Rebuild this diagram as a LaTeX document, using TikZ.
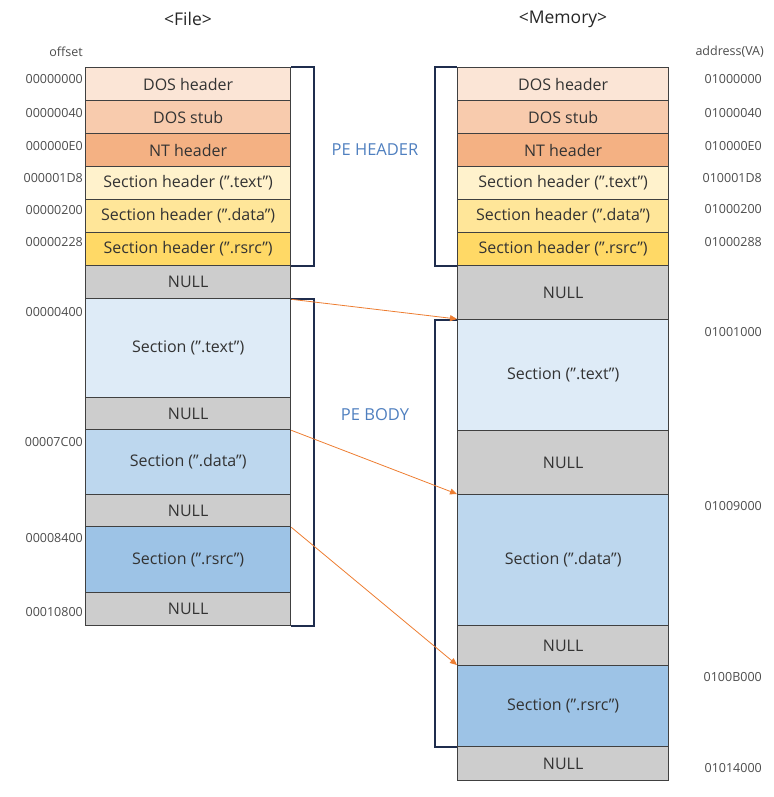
\documentclass[tikz,border=0pt]{standalone}
\usepackage{fontspec}
\setmainfont{Open Sans}
\usetikzlibrary{arrows.meta}

\definecolor{doshc}{HTML}{FBE5D6}
\definecolor{stubc}{HTML}{F8CBAD}
\definecolor{ntc}{HTML}{F4B183}
\definecolor{shtextc}{HTML}{FFF2CC}
\definecolor{shdatac}{HTML}{FFE699}
\definecolor{shrsrcc}{HTML}{FFD966}
\definecolor{nullc}{HTML}{CDCDCD}
\definecolor{sectextc}{HTML}{DEEBF7}
\definecolor{secdatac}{HTML}{BDD7EE}
\definecolor{secrsrcc}{HTML}{9DC3E6}
\definecolor{pelabc}{HTML}{4F7FBF}
\definecolor{bracketc}{HTML}{1F2D4D}
\definecolor{mapc}{HTML}{ED7D31}

\begin{document}
\begin{tikzpicture}[x=1pt, y=-1pt,
    cell/.style={rectangle, draw=black!75, line width=1.3pt, anchor=north west, minimum width=#1, inner sep=0pt, font=\fontsize{16}{18}\selectfont, text=black!80},
    cell/.default=205pt,
    offs/.style={anchor=east, font=\fontsize{12.5}{14}\selectfont, text=black!70, inner sep=0pt},
    title/.style={font=\fontsize{17.5}{20}\selectfont, text=black!85},
    pelab/.style={font=\fontsize{16.5}{18}\selectfont, text=pelabc},
    bracket/.style={draw=bracketc, line width=2pt},
    arrow/.style={-{Triangle[length=7pt,width=6pt]}, draw=mapc, line width=0.8pt}
]
    \useasboundingbox (0,0) rectangle (773,797);

    % Titles
    \node[title] (tfile) at (188,19) {<File>};
    \node[title] (tmem) at (563,19) {<Memory>};
    \node[offs] (toffs) at (83,52) {offset};
    \node[offs] (taddr) at (764,52) {address(VA)};

    % File layout
    \node[cell, fill=doshc, minimum height=33pt] (fdosh) at (85,67) {DOS header};
    \node[cell, fill=stubc, minimum height=33pt] (fstub) at (85,100) {DOS stub};
    \node[cell, fill=ntc, minimum height=33pt] (fnt) at (85,133) {NT header};
    \node[cell, fill=shtextc, minimum height=33pt] (fshtext) at (85,166) {Section header (".text")};
    \node[cell, fill=shdatac, minimum height=33pt] (fshdata) at (85,199) {Section header (".data")};
    \node[cell, fill=shrsrcc, minimum height=33pt] (fshrsrc) at (85,232) {Section header (".rsrc")};
    \node[cell, fill=nullc, minimum height=33pt] (fnull1) at (85,265) {NULL};
    \node[cell, fill=sectextc, minimum height=99pt] (ftext) at (85,298) {Section (".text")};
    \node[cell, fill=nullc, minimum height=32pt] (fnull2) at (85,397) {NULL};
    \node[cell, fill=secdatac, minimum height=65pt] (fdata) at (85,429) {Section (".data")};
    \node[cell, fill=nullc, minimum height=32pt] (fnull3) at (85,494) {NULL};
    \node[cell, fill=secrsrcc, minimum height=66pt] (frsrc) at (85,526) {Section (".rsrc")};
    \node[cell, fill=nullc, minimum height=33pt] (fnull4) at (85,592) {NULL};

    % Memory layout
    \node[cell=211pt, fill=doshc, minimum height=33pt] (mdosh) at (457,67) {DOS header};
    \node[cell=211pt, fill=stubc, minimum height=33pt] (mstub) at (457,100) {DOS stub};
    \node[cell=211pt, fill=ntc, minimum height=33pt] (mnt) at (457,133) {NT header};
    \node[cell=211pt, fill=shtextc, minimum height=33pt] (mshtext) at (457,166) {Section header (".text")};
    \node[cell=211pt, fill=shdatac, minimum height=33pt] (mshdata) at (457,199) {Section header (".data")};
    \node[cell=211pt, fill=shrsrcc, minimum height=33pt] (mshrsrc) at (457,232) {Section header (".rsrc")};
    \node[cell=211pt, fill=nullc, minimum height=54pt] (mnull1) at (457,265) {NULL};
    \node[cell=211pt, fill=sectextc, minimum height=111pt] (mtext) at (457,319) {Section (".text")};
    \node[cell=211pt, fill=nullc, minimum height=64pt] (mnull2) at (457,430) {NULL};
    \node[cell=211pt, fill=secdatac, minimum height=131pt] (mdata) at (457,494) {Section (".data")};
    \node[cell=211pt, fill=nullc, minimum height=40pt] (mnull3) at (457,625) {NULL};
    \node[cell=211pt, fill=secrsrcc, minimum height=81pt] (mrsrc) at (457,665) {Section (".rsrc")};
    \node[cell=211pt, fill=nullc, minimum height=34pt] (mnull4) at (457,746) {NULL};

    % Offsets
    \node[offs] (o0) at (83,79) {00000000};
    \node[offs] (o1) at (83,113) {00000040};
    \node[offs] (o2) at (83,146) {000000E0};
    \node[offs] (o3) at (83,178) {000001D8};
    \node[offs] (o4) at (83,210) {00000200};
    \node[offs] (o5) at (83,242) {00000228};
    \node[offs] (o6) at (83,312) {00000400};
    \node[offs] (o7) at (83,442) {00007C00};
    \node[offs] (o8) at (83,538) {00008400};
    \node[offs] (o9) at (83,612) {00010800};

    % Addresses
    \node[offs] (a0) at (762,79) {01000000};
    \node[offs] (a1) at (762,113) {01000040};
    \node[offs] (a2) at (762,146) {010000E0};
    \node[offs] (a3) at (762,178) {010001D8};
    \node[offs] (a4) at (762,209) {01000200};
    \node[offs] (a5) at (762,242) {01000288};
    \node[offs] (a6) at (762,332) {01001000};
    \node[offs] (a7) at (762,506) {01009000};
    \node[offs] (a8) at (762,677) {0100B000};
    \node[offs] (a9) at (762,768) {01014000};

    % Brackets
    \draw[bracket] (fdosh.north east) -- ++(23,0) |- (fshrsrc.south east);
    \draw[bracket] (fnull1.south east) -- ++(23,0) |- (fnull4.south east);
    \draw[bracket] (mdosh.north west) -- ++(-22,0) |- (mshrsrc.south west);
    \draw[bracket] (mnull1.south west) -- ++(-22,0) |- (mrsrc.south west);
    \node[pelab] (pehead) at (375,150) {PE HEADER};
    \node[pelab] (pebody) at (375,415) {PE BODY};

    % Mapping
    \draw[arrow] (fnull1.south east) -- (mtext.north west);
    \draw[arrow] (fnull2.south east) -- (mdata.north west);
    \draw[arrow] (fnull3.south east) -- (mrsrc.north west);
\end{tikzpicture}
\end{document}
